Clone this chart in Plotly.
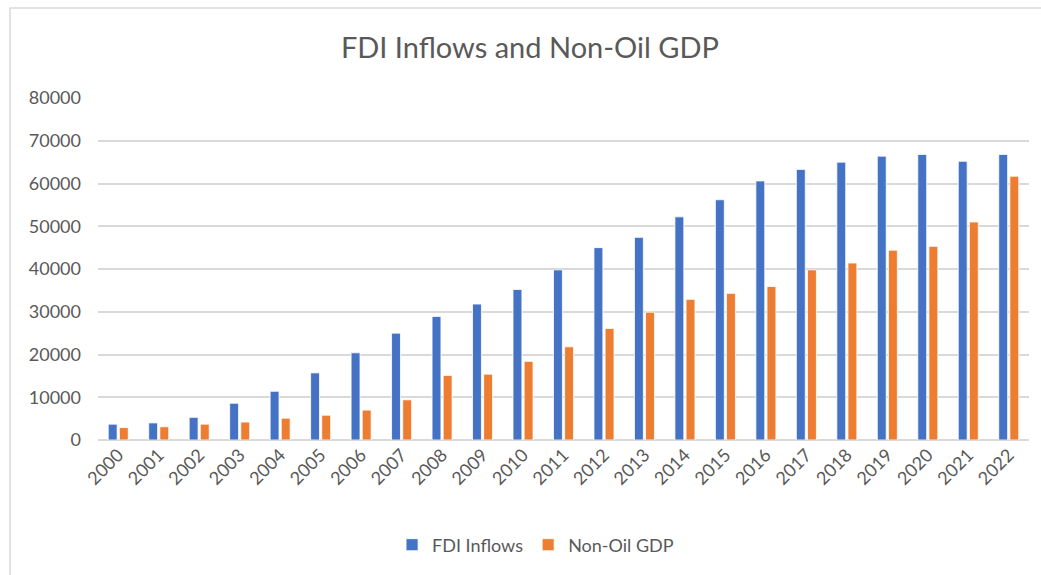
import plotly.graph_objects as go

years = [str(y) for y in range(2000, 2023)]
fdi_inflows = [3700, 4000, 5300, 8600, 11400, 15700, 20400, 25000, 28900, 31800,
               35200, 39800, 45000, 47400, 52200, 56200, 60600, 63300, 65000, 66400,
               66800, 65200, 66800]
non_oil_gdp = [2900, 3100, 3700, 4200, 5100, 5800, 7000, 9400, 15100, 15400,
               18400, 21800, 26100, 29900, 32900, 34300, 35900, 39800, 41400, 44400,
               45300, 51000, 61700]
y_ticks = [0, 10000, 20000, 30000, 40000, 50000, 60000, 70000, 80000]

FONT = "Lato, 'Open Sans', sans-serif"
GREY = "#595959"

fig = go.Figure()
fig.add_trace(go.Bar(x=years, y=fdi_inflows, name="FDI Inflows",
                     marker=dict(color="#4472C4", line=dict(color="white", width=0.8))))
fig.add_trace(go.Bar(x=years, y=non_oil_gdp, name="Non-Oil GDP",
                     marker=dict(color="#ED7D31", line=dict(color="white", width=0.8))))

fig.update_layout(
    width=1041, height=575,
    margin=dict(l=98, r=12, t=98, b=135),
    paper_bgcolor="white", plot_bgcolor="white",
    barmode="group", bargap=0.45, bargroupgap=0.2,
    title=dict(text="FDI Inflows and Non-Oil GDP", x=0.509, xanchor="center",
               y=1 - 48 / 575, yanchor="middle",
               font=dict(family=FONT, size=29, color=GREY)),
    font=dict(family=FONT, color=GREY),
    legend=dict(orientation="h", x=0.47, xanchor="center", y=-0.307, yanchor="middle",
                font=dict(family=FONT, size=18, color=GREY), itemwidth=30,
                traceorder="normal"),
    xaxis=dict(type="category", tickangle=-45, tickfont=dict(family=FONT, size=18, color=GREY),
               showgrid=False, showline=False, ticks=""),
    yaxis=dict(range=[0, 80000], tickvals=y_ticks, tickformat="d",
               tickfont=dict(family=FONT, size=18, color=GREY),
               showgrid=True, gridcolor="#d9d9d9", gridwidth=1.5,
               zeroline=True, zerolinecolor="#d9d9d9", zerolinewidth=1.5,
               showline=False, ticks="", ticklabelstandoff=16),
    shapes=[dict(type="rect", xref="paper", yref="paper",
                 x0=-0.0945, x1=1.05, y0=-0.5, y1=1.263,
                 line=dict(color="#d9d9d9", width=1.5), fillcolor="rgba(0,0,0,0)",
                 layer="below")],
)

fig.write_html("out.html")
